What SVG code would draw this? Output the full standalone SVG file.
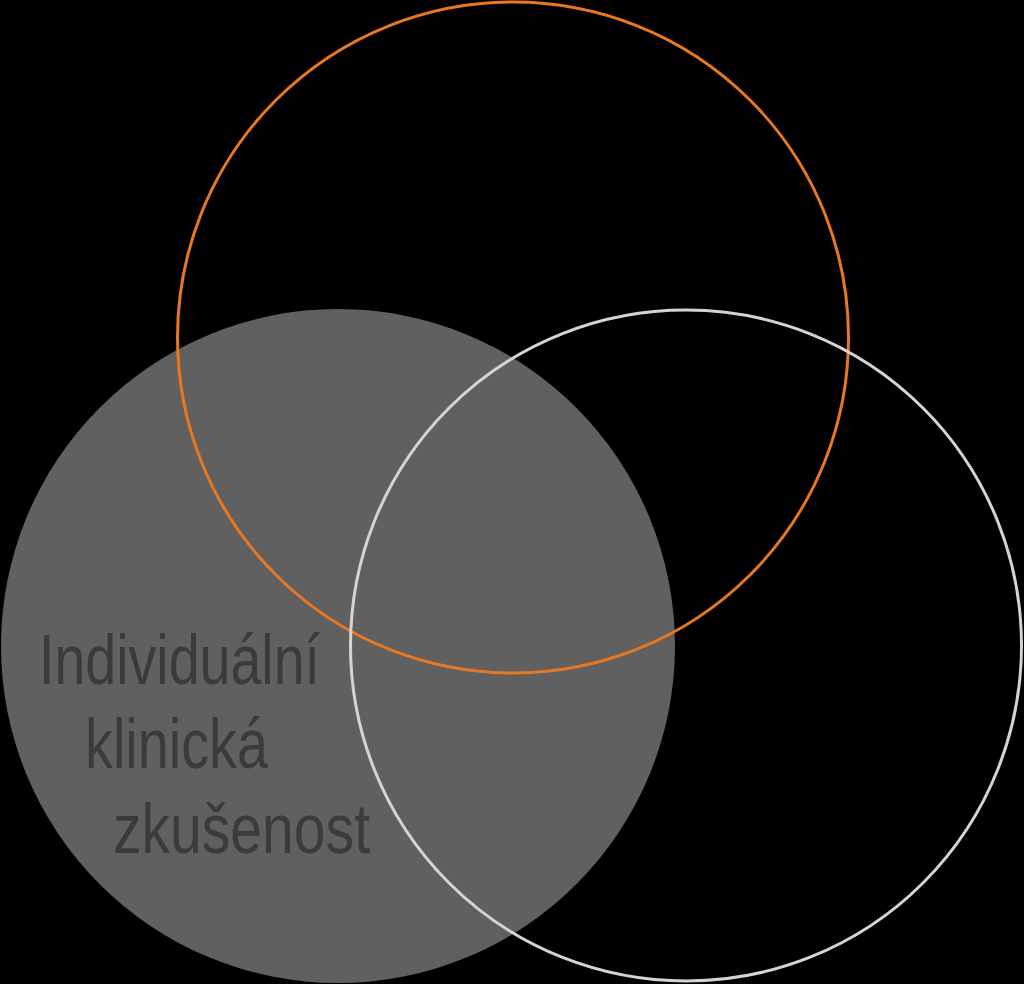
<svg xmlns="http://www.w3.org/2000/svg" width="1024" height="984" viewBox="0 0 1024 984">
<style>
.lbl{font-family:"Liberation Sans Narrow","Liberation Sans",Arial,sans-serif;font-size:70px;fill:#3b3b3b}
</style>
<rect width="1024" height="984" fill="#000"/>
<g id="node-clinical">
<circle cx="338" cy="646" r="337" fill="#606060"/>
<text class="lbl" x="39" y="684" textLength="281" lengthAdjust="spacingAndGlyphs">Individuální</text>
<text class="lbl" x="85" y="768" textLength="183" lengthAdjust="spacingAndGlyphs">klinická</text>
<text class="lbl" x="113" y="853" textLength="257" lengthAdjust="spacingAndGlyphs">zkušenost</text>
</g>
<g id="node-orange">
<circle cx="513" cy="337.5" r="335.5" fill="none" stroke="#e87722" stroke-width="3"/>
</g>
<g id="node-light">
<circle cx="686" cy="645.5" r="335.5" fill="none" stroke="#d4d4d4" stroke-width="3"/>
</g>
<g id="connectors"/>
</svg>
